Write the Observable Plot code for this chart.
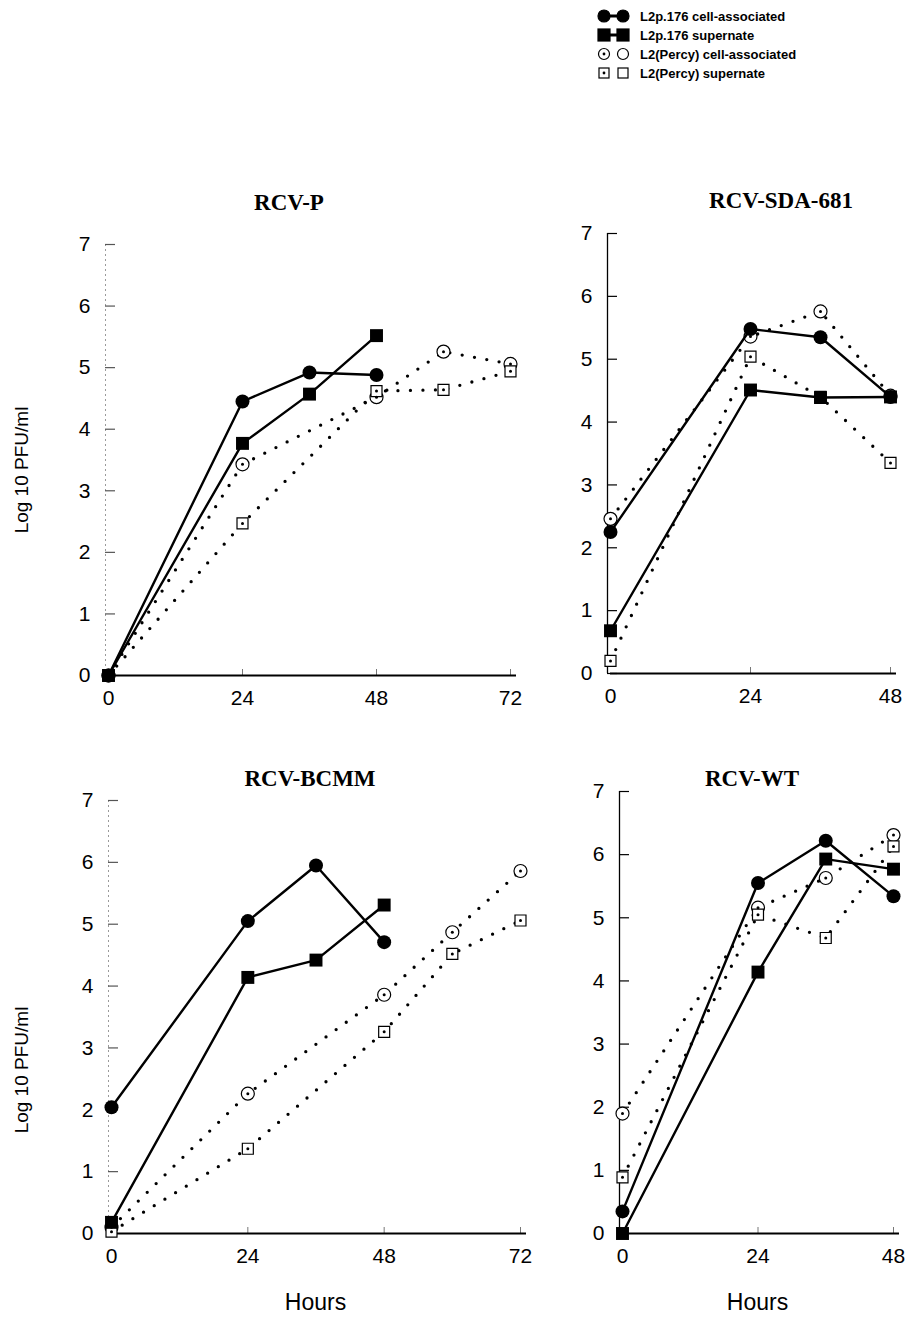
<!DOCTYPE html>
<html><head><meta charset="utf-8">
<script src="https://cdn.jsdelivr.net/npm/d3@7"></script>
<script src="https://cdn.jsdelivr.net/npm/@observablehq/plot@0.6"></script>
<style>
body{margin:0;background:#fff;}
#root{position:relative;width:906px;height:1326px;overflow:hidden;background:#fff;}
.panel{position:absolute;}
.panel svg{display:block;max-width:none;}
#overlay{position:absolute;left:0;top:0;pointer-events:none;}
</style></head><body><div id="root"></div>
<script>
// ---------- data ----------
const seriesNames = ["L2p.176 cell-associated","L2p.176 supernate","L2(Percy) cell-associated","L2(Percy) supernate"];
const panelNames = ["RCV-P","RCV-SDA-681","RCV-BCMM","RCV-WT"];
const yTicks = [0,1,2,3,4,5,6,7];
const xTicks72 = [0,24,48,72];
const xTicks48 = [0,24,48];

// RCV-P
const rcvP_hours176 = [0,24,36,48];
const rcvP_cell176 = [0,4.45,4.92,4.88];
const rcvP_sup176 = [0,3.77,4.57,5.52];
const rcvP_hoursPercy = [0,24,48,60,72];
const rcvP_cellPercy = [0,3.43,4.52,5.26,5.06];
const rcvP_supPercy = [0,2.47,4.62,4.64,4.94];

// RCV-SDA-681
const sda_hours176 = [0,24,36,48];
const sda_cell176 = [2.25,5.48,5.35,4.40];
const sda_sup176 = [0.68,4.51,4.39,4.40];
const sda_hoursPercy = [0,24,36,48];
const sda_cellPercy = [2.46,5.36,5.76,4.42];
const sda_supPercy = [0.20,5.04,4.40,3.35];

// RCV-BCMM
const bcmm_hours176 = [0,24,36,48];
const bcmm_cell176 = [2.04,5.05,5.95,4.71];
const bcmm_sup176 = [0.18,4.14,4.42,5.31];
const bcmm_hoursPercy = [0,24,48,60,72];
const bcmm_cellPercy = [0.10,2.26,3.86,4.87,5.86];
const bcmm_supPercy = [0.03,1.37,3.26,4.52,5.06];

// RCV-WT
const wt_hours176 = [0,24,36,48];
const wt_cell176 = [0.35,5.55,6.22,5.34];
const wt_sup176 = [0,4.14,5.93,5.77];
const wt_hoursPercy = [0,24,36,48];
const wt_cellPercy = [1.90,5.16,5.63,6.31];
const wt_supPercy = [0.89,5.05,4.68,6.13];

// ---------- layout ----------
const panels = [
  {name: panelNames[0], xTicks: xTicks72, left:108, right:510, top:244, bottom:675, faint:true,
   titleX:289, titleY:210,
   h176: rcvP_hours176, cell176: rcvP_cell176, sup176: rcvP_sup176, hP: rcvP_hoursPercy, cellP: rcvP_cellPercy, supP: rcvP_supPercy},
  {name: panelNames[1], xTicks: xTicks48, left:610, right:890, top:233, bottom:673, faint:false,
   titleX:781, titleY:208,
   h176: sda_hours176, cell176: sda_cell176, sup176: sda_sup176, hP: sda_hoursPercy, cellP: sda_cellPercy, supP: sda_supPercy},
  {name: panelNames[2], xTicks: xTicks72, left:111, right:520, top:800, bottom:1233, faint:true,
   titleX:310, titleY:786,
   h176: bcmm_hours176, cell176: bcmm_cell176, sup176: bcmm_sup176, hP: bcmm_hoursPercy, cellP: bcmm_cellPercy, supP: bcmm_supPercy},
  {name: panelNames[3], xTicks: xTicks48, left:622, right:893, top:791, bottom:1233, faint:false,
   titleX:752, titleY:786,
   h176: wt_hours176, cell176: wt_cell176, sup176: wt_sup176, hP: wt_hoursPercy, cellP: wt_cellPercy, supP: wt_supPercy}
];

const root = document.getElementById("root");
const FONT = "'Liberation Sans', Arial, sans-serif";

function rows(hours, vals, s){ return hours.map((h,i)=>({h, v: vals[i], s})); }

function makePanel(p){
  const xmax = p.xTicks[p.xTicks.length-1];
  const fw = p.right - p.left, fh = p.bottom - p.top;
  const pxX = fw / xmax, pxY = fh / 7;
  const mL = 70, mR = 16, mT = 20, mB = 52;
  const c176 = rows(p.h176, p.cell176, seriesNames[0]);
  const s176 = rows(p.h176, p.sup176, seriesNames[1]);
  const cP = rows(p.hP, p.cellP, seriesNames[2]);
  const sP = rows(p.hP, p.supP, seriesNames[3]);
  const axisColor = p.faint ? "#9a9a9a" : "#000";
  const dotted = {x:"h", y:"v", stroke:"#000", strokeWidth:3.3, strokeDasharray:"0 12.5", strokeLinecap:"round"};
  const solid = {x:"h", y:"v", stroke:"#000", strokeWidth:2.4, strokeLinejoin:"round"};
  const chart = Plot.plot({
    width: mL + fw + mR, height: mT + fh + mB,
    marginLeft: mL, marginRight: mR, marginTop: mT, marginBottom: mB,
    style: {fontFamily: FONT, color:"#000", background:"transparent", overflow:"visible"},
    x: {domain:[0, xmax], label:null},
    y: {domain:[0, 7], label:null},
    marks: [
      Plot.ruleX([0], {stroke: axisColor, strokeWidth: p.faint ? 1 : 1.3, strokeDasharray: p.faint ? "2 3" : null, dx:-3}),
      Plot.ruleY(yTicks, {y: d=>d, x1: 0, x2: 10/pxX, stroke: p.faint ? "#555" : "#000", strokeWidth: 1.2, dx:-3}),
      Plot.ruleX(p.xTicks.slice(1), {x: d=>d, y1: 0, y2: 6/pxY, stroke:"#777", strokeWidth:1}),
      Plot.ruleY([0], {stroke:"#000", strokeWidth:2, insetRight:-6}),
      Plot.axisY(yTicks, {tickSize:0, tickPadding:18, fontSize:21, tickFormat: d3.format("d")}),
      Plot.axisX(p.xTicks, {tickSize:0, tickPadding:15, fontSize:21, tickFormat: d3.format("d")}),
      Plot.line(cP, dotted),
      Plot.line(sP, dotted),
      Plot.dot(cP, {x:"h", y:"v", r:6.5, symbol:"circle", fill:"#fff", stroke:"#000", strokeWidth:1.2}),
      Plot.dot(sP, {x:"h", y:"v", r:6.2, symbol:"square", fill:"#fff", stroke:"#000", strokeWidth:1.2}),
      Plot.dot(cP.concat(sP), {x:"h", y:"v", r:1.5, fill:"#000"}),
      Plot.line(c176, solid),
      Plot.line(s176, solid),
      Plot.dot(c176, {x:"h", y:"v", r:7, symbol:"circle", fill:"#000"}),
      Plot.dot(s176, {x:"h", y:"v", r:7.3, symbol:"square", fill:"#000"})
    ]
  });
  const div = document.createElement("div");
  div.className = "panel";
  div.style.left = (p.left - mL) + "px";
  div.style.top = (p.top - mT) + "px";
  div.appendChild(chart);
  root.appendChild(div);
}
panels.forEach(makePanel);

// ---------- overlay: titles, axis labels, legend ----------
const svg = d3.select(root).append("svg").attr("id","overlay").attr("width",906).attr("height",1326);
svg.selectAll("text.title").data(panels).join("text")
  .attr("x", d=>d.titleX).attr("y", d=>d.titleY)
  .attr("text-anchor","middle")
  .attr("font-family","'Liberation Serif','Times New Roman',serif")
  .attr("font-weight","bold").attr("font-size",23)
  .text(d=>d.name);

[470, 1070].forEach(cy=>{
  svg.append("text").attr("transform",`translate(28,${cy}) rotate(-90)`)
    .attr("text-anchor","middle").attr("font-family",FONT).attr("font-size",19)
    .text("Log 10 PFU/ml");
});
[(panels[2].left+panels[2].right)/2, (panels[3].left+panels[3].right)/2].forEach(cx=>{
  svg.append("text").attr("x",cx).attr("y",1310).attr("text-anchor","middle")
    .attr("font-family",FONT).attr("font-size",23).text("Hours");
});

// legend
const legendY = [16, 35, 54, 73];
const lg = svg.append("g");
seriesNames.forEach((name,i)=>{
  const y = legendY[i];
  const g = lg.append("g");
  const filled = i < 2;
  const isCircle = i % 2 === 0;
  if (filled) g.append("line").attr("x1",604).attr("x2",622).attr("y1",y).attr("y2",y).attr("stroke","#000").attr("stroke-width",3);
  [604, 623].forEach((x,j)=>{
    if (isCircle) g.append("circle").attr("cx",x).attr("cy",y).attr("r", filled?6:5.5)
      .attr("fill", filled?"#000":"#fff").attr("stroke","#000").attr("stroke-width",1.2);
    else g.append("rect").attr("x",x-(filled?6:5)).attr("y",y-(filled?6:5)).attr("width",filled?12:10).attr("height",filled?12:10)
      .attr("fill", filled?"#000":"#fff").attr("stroke","#000").attr("stroke-width",1.2);
    if (!filled && j===0) g.append("circle").attr("cx",x).attr("cy",y).attr("r",1.4).attr("fill","#000");
  });
  g.append("text").attr("x",640).attr("y",y+5).attr("font-family",FONT).attr("font-weight","bold")
    .attr("font-size",13).text(name);
});
</script></body></html>
